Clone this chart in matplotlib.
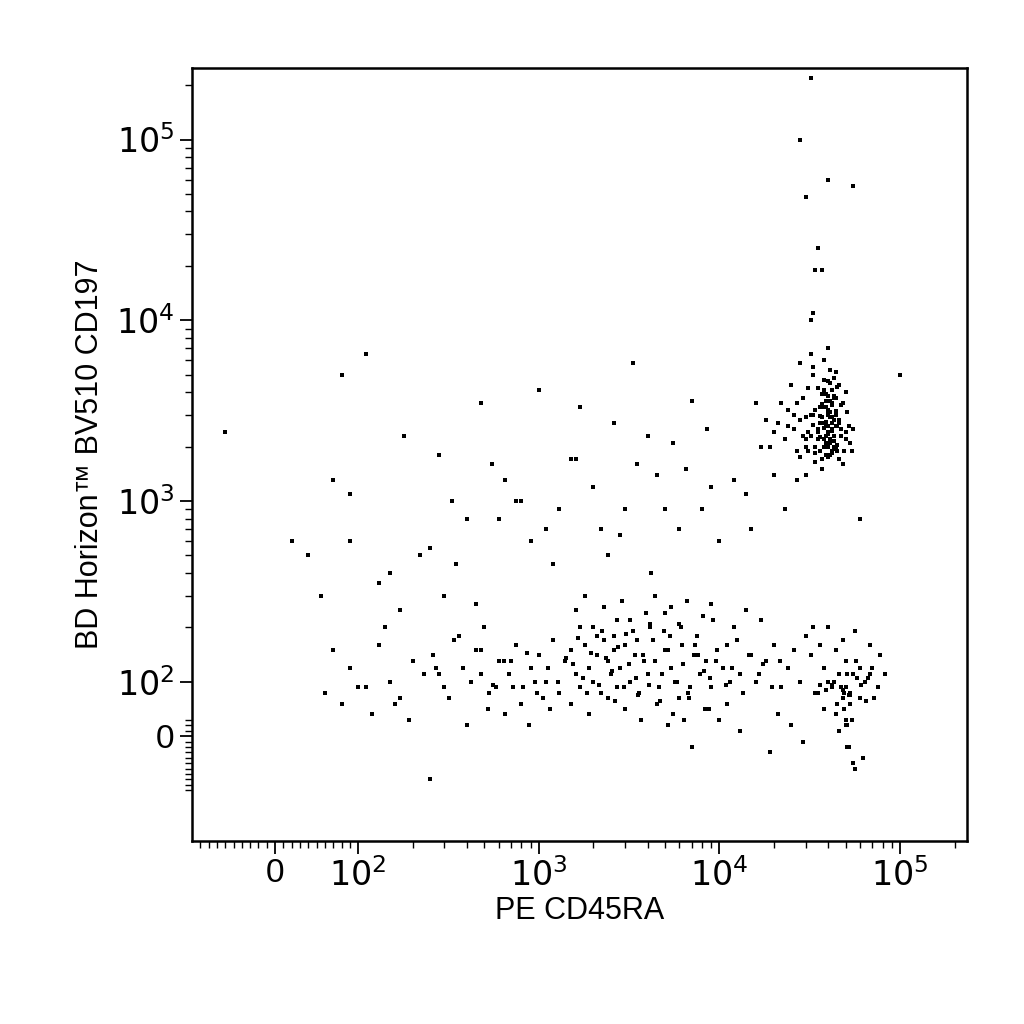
import matplotlib
matplotlib.use("Agg")
import matplotlib.pyplot as plt
from matplotlib.ticker import FixedLocator, FixedFormatter

plt.rcParams['font.family'] = ['Liberation Sans', 'DejaVu Sans']

# Upper-right population (CD45RA+ CD197+)
hi_x = [3.0e4,3.5e4,4.0e4,4.2e4,3.8e4,4.5e4,5.0e4,3.3e4,2.8e4,4.1e4,3.6e4,4.4e4,3.9e4,4.7e4,3.1e4,4.3e4,3.7e4,4.0e4,4.6e4,5.3e4,
        2.6e4,3.4e4,4.1e4,3.9e4,4.2e4,4.8e4,3.2e4,3.6e4,4.0e4,4.4e4,2.4e4,2.9e4,3.5e4,4.3e4,5.1e4,3.8e4,4.1e4,3.7e4,4.5e4,3.0e4,
        2.2e4,2.0e4,2.7e4,3.3e4,4.0e4,4.2e4,3.9e4,4.6e4,5.5e4,3.4e4,4.1e4,3.8e4,4.3e4,3.6e4,4.0e4,4.9e4,3.2e4,2.5e4,1.8e4,4.4e4,
        3.5e4,4.2e4,3.9e4,4.1e4,4.0e4,3.7e4,4.3e4,4.5e4,3.1e4,2.8e4,5.0e4,3.6e4,4.2e4,3.8e4,4.0e4,4.4e4,3.3e4,4.7e4,2.3e4,1.6e4,
        3.0e4,3.9e4,4.1e4,4.3e4,3.5e4,4.0e4,4.2e4,3.8e4,5.2e4,2.7e4]
hi_y = [2000,2500,3000,3500,2200,1900,4000,5000,2800,2100,3300,2600,1800,2300,4200,3800,2900,2400,1700,2100,
        3000,2000,4500,3600,2700,1600,2300,1900,3200,5200,2600,3700,2400,2000,3100,6000,2200,1500,4300,2900,
        3500,2400,1900,5500,2600,3400,2100,2800,2500,3200,1800,4100,2300,2700,3600,1900,6500,4400,2800,3000,
        2200,2500,3900,3100,2000,1700,4800,2600,2400,5800,2200,3300,1900,2700,7000,2000,3000,3400,2200,3500,
        1400,2300,2900,3700,2500,4600,1850,3300,2600,1300]
hi2_x = [4.1e4,4.3e4,3.9e4,4.0e4,4.2e4,3.8e4,4.4e4,3.6e4,4.6e4,3.7e4,4.1e4,4.3e4,3.5e4,4.0e4,4.2e4,3.9e4,4.5e4,3.3e4,4.8e4,3.1e4,
         2.9e4,2.6e4,3.4e4,4.0e4,4.2e4,3.8e4,4.4e4,5.0e4,3.6e4,4.1e4,2.1e4,1.9e4,2.4e4,2.8e4,3.2e4,3.0e4,4.7e4,5.4e4,3.5e4,4.3e4,
         4.0e4,4.2e4,3.9e4,4.1e4,3.7e4,4.4e4,3.4e4,4.6e4,3.8e4,4.0e4]
hi2_y = [2100,2300,2600,3100,3400,2000,1950,2250,2700,3900,3600,2800,2450,1750,2900,3300,2050,2650,3500,1900,
         2300,2500,1650,2000,4100,4700,3700,2400,2950,5300,2700,2000,3200,1750,3000,2200,2500,1900,4200,2150,
         3800,2450,2750,2200,3450,3150,1850,4400,2550,2350]

# Lower band (CD197-)
lo_x = [60,70,80,90,110,130,150,170,200,230,260,300,340,380,420,480,530,600,680,750,820,900,1000,1100,1200,1300,1400,1500,1600,1700,
        1800,1900,2000,2100,2200,2300,2400,2500,2600,2700,2800,3000,3200,3400,3600,3800,4000,4300,4600,5000,5400,5800,6200,6700,7200,7800,8400,9000,9700,1.05e4,
        1.15e4,1.25e4,1.35e4,1.5e4,1.65e4,1.8e4,2.0e4,2.2e4,2.4e4,2.6e4,2.8e4,3.0e4,3.2e4,3.4e4,3.6e4,3.8e4,4.0e4,4.2e4,4.4e4,4.6e4,4.8e4,5.0e4,5.3e4,5.6e4,6.0e4,6.4e4,6.8e4,7.2e4,7.7e4,8.2e4,
        1500,1700,1900,2100,2400,2700,3000,3300,3700,4100,4500,5000,5500,6100,6800,7500,8300,9200,1.0e4,1.1e4,
        1600,1800,2000,2300,2600,2900,3200,3500,3900,4400,4900,5400,6000,6600,7300,8100,9000,1.2e4,1.4e4,1.7e4,
        3.5e4,4.0e4,4.5e4,5.0e4,5.5e4,6.0e4,4.2e4,4.8e4,5.2e4,5.8e4,6.5e4,7.0e4,3.8e4,4.4e4,5.1e4,5.4e4,6.2e4,4.6e4,5.0e4,5.6e4,
        5.0e4,5.2e4,4.9e4,5.3e4,5.5e4,4.8e4,5.1e4,6.8e4,7.5e4,3.3e4,2.9e4,2.5e4,2.1e4,1.9e4,1.3e4,1.1e4,8800,7000,6400,5200,
        100,120,140,160,190,250,280,320,360,400,450,520,580,650,700,800,880,950,1050,1150]
lo_y = [80,150,60,120,90,160,100,70,130,110,140,90,170,120,100,150,80,130,110,160,90,120,140,100,170,80,130,150,110,90,
        160,120,100,140,80,170,130,110,150,90,120,160,100,140,80,130,110,170,90,150,120,100,160,80,140,110,130,90,150,120,
        100,170,80,140,110,130,160,90,120,150,100,180,140,80,160,120,200,90,150,110,170,130,80,190,120,100,160,70,140,110,
        60,200,40,180,70,220,50,190,30,210,60,240,40,200,70,180,50,220,30,160,
        250,300,200,260,180,280,220,170,240,300,190,260,210,280,160,230,270,200,250,220,
        80,100,60,90,110,70,95,85,75,105,65,120,50,40,-20,30,-40,10,20,-60,
        30,-20,50,60,-50,70,20,110,90,200,-10,20,40,-30,10,60,50,-20,30,20,
        90,40,200,60,30,-80,110,70,180,20,150,50,90,40,130,60,20,100,70,50]
lo2_x = [1550,1750,1950,2150,2350,2550,2750,2950,3150,3450,3750,4050,4400,4800,5200,5700,6300,6900,7600,8200,
         8900,9600,1.08e4,1.18e4,1.3e4,1.45e4,1.6e4,1.75e4,1.95e4,2.15e4,3.6e4,3.9e4,4.3e4,4.7e4,4.9e4,5.1e4,5.3e4,5.7e4,6.1e4,6.6e4,
         1650,1850,2250,2650,3050,3550,4150,4700,5300,6000,480,560,640,720,860,980,1120,1280,1420,270]
lo2_y = [125,105,145,95,135,115,155,90,125,105,140,95,130,110,150,100,125,90,140,115,
         105,130,95,120,110,140,100,125,90,130,95,85,100,90,80,110,75,130,95,105,
         175,80,190,65,185,75,200,65,180,70,110,95,130,90,145,80,120,100,135,120]

# Scattered intermediate events
mid_x = [-60,20,40,55,70,90,110,150,180,220,280,330,400,480,550,650,750,900,1000,1100,1300,1500,1700,2000,2200,2600,3000,3500,4000,4500,
         5000,5500,6000,7000,8000,9000,1.0e4,1.2e4,1.4e4,1.7e4,2.0e4,2.3e4,2.7e4,3.2e4,5.5e4,6.0e4,1.0e5,4.0e4,3.4e4,3.0e4,
         80,90,130,170,250,350,450,600,800,1200,1600,2400,2800,3300,4200,6500,8500,1.5e4,300,500]
mid_y = [2400,600,500,300,1300,1100,6500,400,2300,500,1800,1000,800,3500,1600,1300,1000,600,4100,700,900,1700,3300,1200,700,2700,900,1600,2300,1400,
         900,2100,700,3600,900,1200,600,1300,1100,2000,1400,900,3500,1.0e4,5.5e4,800,5000,6.0e4,1.9e4,4.8e4,
         5000,600,350,250,550,450,270,800,1000,450,1700,500,650,5800,400,1500,2500,700,300,200]
top_x = [3.2e4,2.8e4,3.5e4,3.7e4,3.3e4]
top_y = [2.2e5,1.0e5,2.5e4,1.9e4,1.1e4]

fig = plt.figure(figsize=(10.24, 10.24), dpi=100)
ax = fig.add_axes([0.1875, 0.179, 0.757, 0.755])
for xs, ys in [(hi_x, hi_y), (hi2_x, hi2_y), (lo_x, lo_y), (lo2_x, lo2_y), (mid_x, mid_y), (top_x, top_y)]:
    n = min(len(xs), len(ys))
    ax.scatter(xs[:n], ys[:n], s=7, c='black', marker='s', linewidths=0)

ax.set_xscale('symlog', linthresh=100, linscale=0.414)
ax.set_yscale('symlog', linthresh=100, linscale=0.27)
ax.set_xlim(-100, 2.35e5)
ax.set_ylim(-190, 2.5e5)

xmaj = [0, 1e2, 1e3, 1e4, 1e5]
xlab = ['0', r'$10^2$', r'$10^3$', r'$10^4$', r'$10^5$']
ax.xaxis.set_major_locator(FixedLocator(xmaj))
ax.xaxis.set_major_formatter(FixedFormatter(xlab))
xmin = [v for d in [1e2, 1e3, 1e4, 1e5] for v in [d * k for k in range(2, 10)] if v < 2.3e5]
xmin += [-90, -80, -70, -60, -50, -40, -30, -20, -10, 10, 20, 30, 40, 50, 60, 70, 80, 90]
ax.xaxis.set_minor_locator(FixedLocator(xmin))

ymaj = [0, 1e2, 1e3, 1e4, 1e5]
ylab = ['0', r'$10^2$', r'$10^3$', r'$10^4$', r'$10^5$']
ax.yaxis.set_major_locator(FixedLocator(ymaj))
ax.yaxis.set_major_formatter(FixedFormatter(ylab))
ymin = [v for d in [1e2, 1e3, 1e4, 1e5] for v in [d * k for k in range(2, 10)] if v < 2.4e5]
ymin += [-100, -90, -80, -70, -60, -50, -40, -30, -20, -10, 10, 20, 30]
ax.yaxis.set_minor_locator(FixedLocator(ymin))

ax.tick_params(which='major', length=9, width=1.3, labelsize=24, direction='out')
ax.tick_params(which='minor', length=5, width=1, direction='out')
for s in ax.spines.values():
    s.set_linewidth(1.8)
ax.set_xlabel('PE CD45RA', fontsize=22, labelpad=2)
ax.set_ylabel('BD Horizon™ BV510 CD197', fontsize=22, labelpad=8)
fig.savefig('out.png', dpi=100)
